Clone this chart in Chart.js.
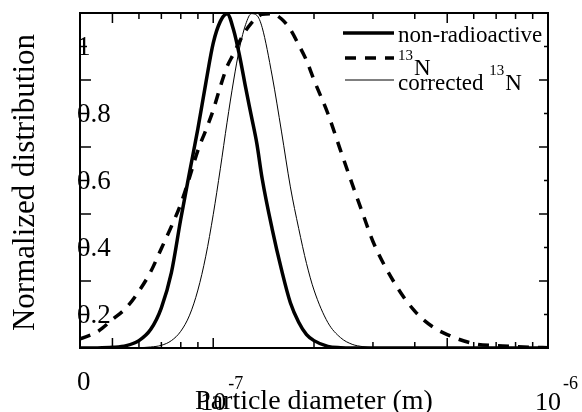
<!DOCTYPE html>
<html>
<head>
<meta charset="utf-8">
<script src="https://cdn.jsdelivr.net/npm/chart.js@4.4.1/dist/chart.umd.min.js"></script>
<style>
html, body { margin: 0; padding: 0; background: #fff; }
#wrap { width: 582px; height: 412px; }
</style>
</head>
<body>
<div id="wrap"><canvas id="sizeChart" width="582" height="412"></canvas></div>
<script>
// particle diameter (m)
var diameters = [4e-8, 4.5e-8, 5e-8, 5.5e-8, 6e-8, 6.5e-8, 7e-8, 7.5e-8, 8e-8, 8.5e-8,
    9e-8, 9.5e-8, 1e-7, 1.05e-7, 1.1e-7, 1.15e-7, 1.2e-7, 1.25e-7, 1.3e-7, 1.35e-7,
    1.4e-7, 1.5e-7, 1.6e-7, 1.7e-7, 1.8e-7, 1.9e-7, 2e-7, 2.2e-7, 2.4e-7, 2.6e-7,
    2.8e-7, 3e-7, 3.5e-7, 4e-7, 4.5e-7, 5e-7, 6e-7, 7e-7, 8e-7, 9e-7, 1e-6];

var nonRadioactive = [0, 0.0003, 0.002, 0.007, 0.022, 0.055, 0.12, 0.225, 0.385, 0.525,
    0.655, 0.79, 0.91, 0.975, 0.998, 0.95, 0.87, 0.777, 0.692, 0.61,
    0.506, 0.355, 0.233, 0.135, 0.077, 0.04, 0.022, 0.005, 0.001, 0,
    0, 0, 0, 0, 0, 0, 0, 0, 0, 0, 0];

var n13 = [0.027, 0.048, 0.085, 0.12, 0.17, 0.227, 0.297, 0.363, 0.43, 0.51,
    0.59, 0.65, 0.71, 0.78, 0.84, 0.878, 0.916, 0.947, 0.97, 0.986,
    0.996, 0.998, 0.982, 0.951, 0.905, 0.858, 0.8, 0.7, 0.59, 0.49,
    0.4, 0.318, 0.19, 0.11, 0.065, 0.04, 0.013, 0.007, 0.004, 0.002, 0.001];

var correctedN13 = [0, 0, 0, 0, 0.001, 0.003, 0.008, 0.022, 0.05, 0.098,
    0.173, 0.274, 0.398, 0.535, 0.674, 0.797, 0.898, 0.966, 0.998, 0.993,
    0.957, 0.812, 0.645, 0.481, 0.357, 0.252, 0.173, 0.076, 0.031, 0.011,
    0.004, 0.001, 0, 0, 0, 0, 0, 0, 0, 0, 0];

// axis ticks
var xMajorTicks = [5e-8, 1e-7, 5e-7, 1e-6];
var xMinorTicks = [6e-8, 7e-8, 8e-8, 9e-8, 2e-7, 3e-7, 4e-7, 6e-7, 7e-7, 8e-7, 9e-7];
var xLabelValues = [1e-7, 1e-6];
var xLabelExponents = ["-7", "-6"];
var yMajorTicks = [0.2, 0.4, 0.6, 0.8];
var yMinorTicks = [0.1, 0.3, 0.5, 0.7, 0.9];

var xTitle = "Particle diameter (m)";
var yTitle = "Normalized distribution";
// legend text, [text, superscript?]
var legendParts = [
    [["non-radioactive", false]],
    [["13", true], ["N", false]],
    [["corrected ", false], ["13", true], ["N", false]]
];

var SERIF = "'Liberation Serif', 'Times New Roman', serif";

function toPoints(ys) {
    return diameters.map(function(d, i) { return {x: d, y: ys[i]}; });
}

var decor = {
    id: "decor",
    afterDraw: function(chart) {
        var ctx = chart.ctx;
        var a = chart.chartArea;
        var xs = chart.scales.x;
        var ys = chart.scales.y;
        ctx.save();
        ctx.strokeStyle = "#000";
        ctx.fillStyle = "#000";
        ctx.lineWidth = 2;
        ctx.strokeRect(a.left, a.top, a.right - a.left, a.bottom - a.top);

        // inward ticks on all four sides
        ctx.lineWidth = 1.5;
        function xTick(v, len) {
            var p = xs.getPixelForValue(v);
            ctx.beginPath();
            ctx.moveTo(p, a.bottom); ctx.lineTo(p, a.bottom - len);
            ctx.moveTo(p, a.top); ctx.lineTo(p, a.top + len);
            ctx.stroke();
        }
        function yTick(v, lenL, lenR) {
            var p = ys.getPixelForValue(v);
            ctx.beginPath();
            ctx.moveTo(a.left, p); ctx.lineTo(a.left + lenL, p);
            ctx.moveTo(a.right, p); ctx.lineTo(a.right - lenR, p);
            ctx.stroke();
        }
        xMajorTicks.forEach(function(v) { xTick(v, 10); });
        xMinorTicks.forEach(function(v) { xTick(v, 6); });
        yMajorTicks.forEach(function(v) { yTick(v, 11, 9); });
        yMinorTicks.forEach(function(v) { yTick(v, 7, 4); });

        // x labels 10^n
        ctx.textAlign = "left";
        ctx.textBaseline = "alphabetic";
        xLabelValues.forEach(function(v, i) {
            var p = xs.getPixelForValue(v);
            ctx.font = "26px " + SERIF;
            ctx.fillText("10", p - 13, a.bottom + 62);
            var w = ctx.measureText("10").width;
            ctx.font = "18px " + SERIF;
            ctx.fillText(xLabelExponents[i], p - 13 + w + 2, a.bottom + 41);
        });

        // axis titles
        ctx.textAlign = "center";
        ctx.font = "28px " + SERIF;
        ctx.fillText(xTitle, (a.left + a.right) / 2, a.bottom + 61);
        ctx.save();
        ctx.font = "31px " + SERIF;
        ctx.translate(34, (a.top + a.bottom) / 2 + 2);
        ctx.rotate(-Math.PI / 2);
        ctx.fillText(yTitle, 0, 0);
        ctx.restore();

        // legend
        var rows = [
            {y: 33, base: 42, width: 3.5, dash: []},
            {y: 58, base: 75, width: 3.5, dash: [11, 9]},
            {y: 80, base: 90, width: 1, dash: []}
        ];
        ctx.textAlign = "left";
        rows.forEach(function(r, i) {
            ctx.lineWidth = r.width;
            ctx.setLineDash(r.dash);
            ctx.beginPath();
            ctx.moveTo(i == 0 ? 343 : 345, r.y);
            ctx.lineTo(394, r.y);
            ctx.stroke();
            ctx.setLineDash([]);
            var tx = 398;
            legendParts[i].forEach(function(part) {
                if (part[1]) {
                    ctx.font = "15px " + SERIF;
                    ctx.fillText(part[0], tx, r.base - 15);
                    tx += ctx.measureText(part[0]).width + 1;
                } else {
                    ctx.font = "23px " + SERIF;
                    ctx.fillText(part[0], tx, r.base);
                    tx += ctx.measureText(part[0]).width;
                }
            });
        });
        ctx.restore();
    }
};

var sizeChart = new Chart(document.getElementById("sizeChart"), {
    type: "line",
    data: {
        datasets: [{
            label: "non-radioactive",
            data: toPoints(nonRadioactive),
            borderColor: "#000",
            borderWidth: 3.5
        }, {
            label: "¹³N",
            data: toPoints(n13),
            borderColor: "#000",
            borderWidth: 3.5,
            borderDash: [11, 9]
        }, {
            label: "corrected ¹³N",
            data: toPoints(correctedN13),
            borderColor: "#000",
            borderWidth: 1
        }]
    },
    options: {
        responsive: false,
        animation: false,
        layout: {padding: {left: 80, top: 13, right: 34, bottom: 64}},
        elements: {
            point: {radius: 0},
            line: {cubicInterpolationMode: "monotone", fill: false}
        },
        plugins: {
            legend: {display: false},
            tooltip: {enabled: false}
        },
        scales: {
            x: {
                type: "logarithmic",
                min: 4e-8,
                max: 1e-6,
                grid: {display: false, drawTicks: false},
                border: {display: false},
                ticks: {display: false}
            },
            y: {
                min: 0,
                max: 1,
                grid: {display: false, drawTicks: false},
                border: {display: false},
                ticks: {
                    stepSize: 0.2,
                    mirror: true,
                    padding: -3,
                    labelOffset: 35,
                    color: "#000",
                    font: {family: SERIF, size: 27},
                    callback: function(v) { return String(Math.round(v * 10) / 10); }
                },
                afterFit: function(scale) {
                    // labels sit inside the frame, so the axis takes no room
                    scale.width = 0;
                    scale.paddingTop = 0;
                    scale.paddingBottom = 0;
                    scale.paddingLeft = 0;
                    scale.paddingRight = 0;
                }
            }
        }
    },
    plugins: [decor]
});
</script>
</body>
</html>
